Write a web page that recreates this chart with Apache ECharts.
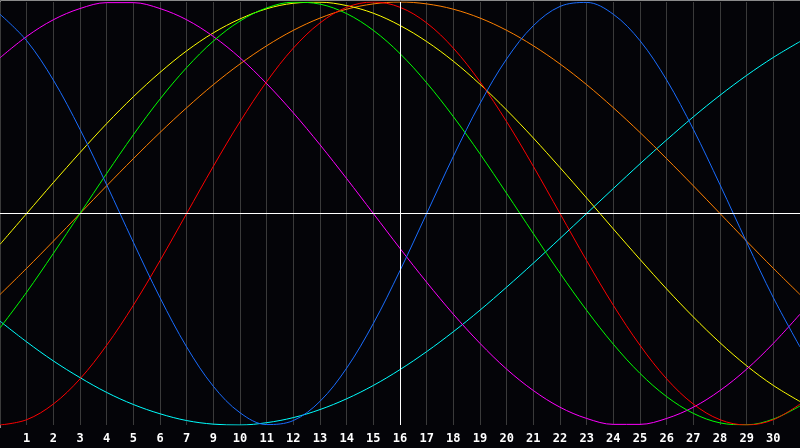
<!DOCTYPE html>
<html>
<head>
<meta charset="utf-8">
<script src="https://cdn.jsdelivr.net/npm/echarts@6/dist/echarts.min.js"></script>
<style>
  html, body { margin: 0; padding: 0; background: #040408; }
  #main { width: 800px; height: 448px; }
</style>
</head>
<body>
<div id="main"></div>
<script>
// day labels under the chart (the 8th is skipped in the original)
var days = ['0', '1', '2', '3', '4', '5', '6', '7', '9', '10', '11', '12', '13', '14', '15', '16',
    '17', '18', '19', '20', '21', '22', '23', '24', '25', '26', '27', '28', '29', '30', '31'];

// cycle values, -1 .. 1, one per day
var physical = [0.942, 0.817, 0.631, 0.398, 0.136, -0.136, -0.398, -0.631, -0.817, -0.942, -0.998, -0.979, -0.888, -0.731, -0.520, -0.270,
    0, 0.270, 0.520, 0.731, 0.888, 0.979, 0.998, 0.942, 0.817, 0.631, 0.398, 0.136, -0.136, -0.398, -0.631];
var emotional = [-1.000, -0.975, -0.901, -0.782, -0.623, -0.434, -0.223, 0, 0.223, 0.434, 0.623, 0.782, 0.901, 0.975, 1.000, 0.975,
    0.901, 0.782, 0.623, 0.434, 0.223, 0, -0.223, -0.434, -0.623, -0.782, -0.901, -0.975, -1.000, -0.975, -0.901];
var intellectual = [-0.541, -0.372, -0.189, 0, 0.189, 0.372, 0.541, 0.690, 0.815, 0.910, 0.972, 0.999, 0.990, 0.945, 0.866, 0.756,
    0.618, 0.458, 0.282, 0.095, -0.095, -0.282, -0.458, -0.618, -0.756, -0.866, -0.945, -0.990, -0.999, -0.972, -0.910];
var intuitive = [0.736, 0.837, 0.916, 0.969, 0.997, 0.997, 0.969, 0.916, 0.837, 0.736, 0.614, 0.476, 0.325, 0.165, 0, -0.165,
    -0.325, -0.476, -0.614, -0.736, -0.837, -0.916, -0.969, -0.997, -0.997, -0.969, -0.916, -0.837, -0.736, -0.614, -0.476];
var aesthetic = [-0.146, 0, 0.146, 0.288, 0.425, 0.552, 0.667, 0.769, 0.854, 0.920, 0.968, 0.994, 0.999, 0.983, 0.947, 0.889,
    0.813, 0.720, 0.611, 0.489, 0.357, 0.217, 0.073, -0.073, -0.217, -0.357, -0.489, -0.611, -0.720, -0.813, -0.889];
var awareness = [-0.383, -0.259, -0.131, 0, 0.131, 0.259, 0.383, 0.500, 0.609, 0.707, 0.793, 0.866, 0.924, 0.966, 0.991, 1.000,
    0.991, 0.966, 0.924, 0.866, 0.793, 0.707, 0.609, 0.500, 0.383, 0.259, 0.131, 0, -0.131, -0.259, -0.383];
var spiritual = [-0.509, -0.607, -0.697, -0.776, -0.846, -0.903, -0.947, -0.979, -0.996, -1.000, -0.989, -0.965, -0.927, -0.876, -0.813, -0.738,
    -0.653, -0.559, -0.457, -0.348, -0.235, -0.118, 0, 0.118, 0.235, 0.348, 0.457, 0.559, 0.653, 0.738, 0.813];

var todayIndex = 15;

function cycle(name, data, color) {
    return {
        name: name,
        type: 'line',
        data: data,
        smooth: 0.35,
        showSymbol: false,
        silent: true,
        lineStyle: { color: color, width: 1 }
    };
}

var myChart = echarts.init(document.getElementById('main'));

var series = [
    cycle('spiritual', spiritual, '#00ffff'),
    cycle('awareness', awareness, '#ff8000'),
    cycle('aesthetic', aesthetic, '#ffff00'),
    cycle('intuitive', intuitive, '#ff00ff'),
    cycle('intellectual', intellectual, '#00ff00'),
    cycle('emotional', emotional, '#ff0000'),
    cycle('physical', physical, '#1a6dff')
];
// white cross: today and the zero line
series[0].markLine = {
    silent: true,
    symbol: 'none',
    label: { show: false },
    lineStyle: { color: '#ffffff', width: 1, type: 'solid' },
    data: [{ xAxis: todayIndex }, { yAxis: 0 }]
};

var option = {
    backgroundColor: '#040408',
    animation: false,
    grid: { left: 0, right: 0, top: 2, bottom: 23 },
    xAxis: {
        type: 'category',
        data: days,
        boundaryGap: false,
        offset: 3,
        axisLine: { show: true, lineStyle: { color: '#8a8a8a', width: 1 } },
        axisTick: { show: false },
        axisLabel: {
            interval: function (index) { return index > 0 && index < days.length - 1; },
            color: '#ffffff',
            fontFamily: 'DejaVu Sans Mono',
            fontWeight: 'bold',
            fontSize: 12,
            margin: 5
        },
        splitLine: { show: true, interval: 0, lineStyle: { color: '#3a3a3a', width: 1 } }
    },
    yAxis: {
        type: 'value',
        min: -1,
        max: 1,
        axisLine: { show: false },
        axisTick: { show: false },
        axisLabel: { show: false },
        splitLine: { show: false }
    },
    graphic: [{
        type: 'polyline',
        silent: true,
        shape: { points: [[0.5, 428], [0.5, 0.5], [800, 0.5]] },
        style: { stroke: '#8a8a8a', lineWidth: 1, fill: null }
    }],
    series: series
};

myChart.setOption(option);
</script>
</body>
</html>
